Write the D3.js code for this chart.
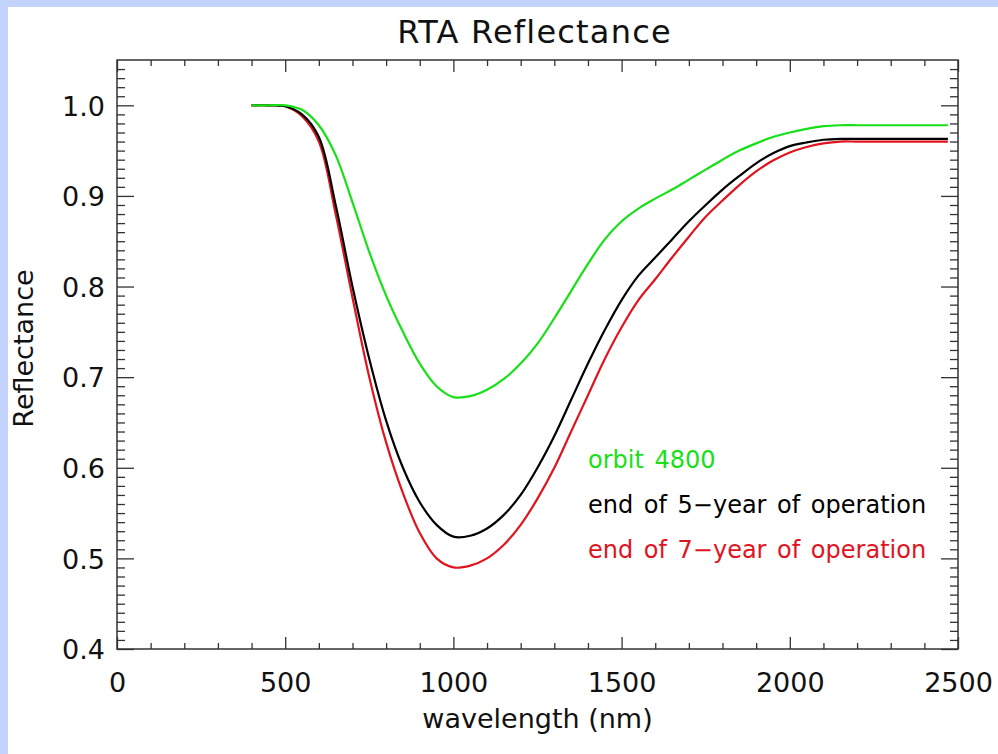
<!DOCTYPE html>
<html>
<head>
<meta charset="utf-8">
<script src="https://cdn.jsdelivr.net/npm/d3@7"></script>
<style>
    body { margin: 0; background: #c3d2fb; }
    svg { display: block; }
    text { font-family: 'DejaVu Sans', sans-serif; fill: #111; }
</style>
</head>
<body>
<div id="chart"></div>
<script>
// wavelength samples (nm)
const wavelength = [400, 450, 500, 550, 600, 650, 700, 750, 800, 850, 900, 950, 1000, 1050,
    1100, 1150, 1200, 1250, 1300, 1350, 1400, 1450, 1500, 1550, 1600, 1650, 1700, 1750,
    1800, 1850, 1900, 1950, 2000, 2050, 2100, 2150, 2200, 2300, 2400, 2470]

const orbit4800 = [1.0, 1.0, 1.0, 0.995, 0.978, 0.945, 0.893, 0.838, 0.790, 0.750, 0.715, 0.690, 0.678, 0.679,
    0.686, 0.698, 0.715, 0.737, 0.765, 0.795, 0.825, 0.852, 0.872, 0.886, 0.897, 0.907, 0.918, 0.929,
    0.940, 0.950, 0.958, 0.965, 0.970, 0.974, 0.977, 0.978, 0.978, 0.978, 0.978, 0.978]
const year5 = [1.0, 1.0, 0.999, 0.990, 0.965, 0.890, 0.800, 0.720, 0.652, 0.600, 0.562, 0.537, 0.524, 0.525,
    0.533, 0.548, 0.570, 0.600, 0.635, 0.675, 0.715, 0.752, 0.785, 0.812, 0.832, 0.852, 0.872, 0.890,
    0.907, 0.922, 0.936, 0.947, 0.955, 0.959, 0.962, 0.963, 0.963, 0.963, 0.963, 0.963]
const year7 = [1.0, 1.0, 0.999, 0.988, 0.960, 0.880, 0.788, 0.700, 0.628, 0.572, 0.528, 0.500, 0.490, 0.492,
    0.500, 0.515, 0.537, 0.566, 0.600, 0.640, 0.680, 0.720, 0.755, 0.785, 0.808, 0.832, 0.855, 0.877,
    0.895, 0.912, 0.927, 0.939, 0.948, 0.954, 0.958, 0.960, 0.960, 0.960, 0.960, 0.960]

const seriesNames = ['orbit 4800', 'end of 5\u2212year of operation', 'end of 7\u2212year of operation']
const seriesColors = ['#18e018', '#000000', '#e0141e']
const legendY = [0.6, 0.55, 0.5]

const xMajor = [0, 500, 1000, 1500, 2000, 2500]
const yMajor = [0.4, 0.5, 0.6, 0.7, 0.8, 0.9, 1.0]

drawChart()
function drawChart() {
    const W = 998, H = 754
    const dim = { left: 117, right: 958, top: 60, bottom: 649 }

    const svg = d3.select('#chart').append('svg')
        .attr('width', W).attr('height', H)

    // white slide panel on the blue frame
    svg.append('rect')
        .attr('x', 8).attr('y', 7)
        .attr('width', W - 8).attr('height', H - 7)
        .attr('fill', '#fff')

    const x = d3.scaleLinear().domain([0, 2500]).range([dim.left, dim.right])
    const y = d3.scaleLinear().domain([0.4, 1.05]).range([dim.bottom, dim.top])

    const xMinor = d3.range(100, 2500, 100).filter(d => d % 500 != 0)
    const yMinor = d3.range(41, 105).map(d => d / 100).filter(d => Math.round(d * 100) % 10 != 0)

    const axisColor = '#333'
    const addAxis = (axis, tx, ty) => {
        const g = svg.append('g')
            .attr('transform', `translate(${tx},${ty})`)
            .call(axis)
        g.select('.domain').remove()
        g.selectAll('.tick line').attr('stroke', axisColor).attr('stroke-width', 1.3)
        return g
    }

    // bottom & top
    addAxis(d3.axisBottom(x).tickValues(xMinor).tickSize(-6).tickFormat(''), 0, dim.bottom)
    addAxis(d3.axisTop(x).tickValues(xMinor).tickSize(-6).tickFormat(''), 0, dim.top)
    addAxis(d3.axisTop(x).tickValues(xMajor).tickSize(-12).tickFormat(''), 0, dim.top)
    const xAx = addAxis(d3.axisBottom(x).tickValues(xMajor).tickSize(-12).tickPadding(0).tickFormat(d3.format('d')), 0, dim.bottom)
    xAx.selectAll('text').attr('y', 43).attr('dy', 0)
        .style('font-size', '27px').style('font-family', 'DejaVu Sans').attr('fill', '#111')

    // left & right
    addAxis(d3.axisLeft(y).tickValues(yMinor).tickSize(-8).tickFormat(''), dim.left, 0)
    addAxis(d3.axisRight(y).tickValues(yMinor).tickSize(-8).tickFormat(''), dim.right, 0)
    addAxis(d3.axisRight(y).tickValues(yMajor).tickSize(-17).tickFormat(''), dim.right, 0)
    const yAx = addAxis(d3.axisLeft(y).tickValues(yMajor).tickSize(-17).tickFormat(d3.format('.1f')), dim.left, 0)
    yAx.selectAll('text').attr('x', -12).attr('dy', '0.36em')
        .style('font-size', '27px').style('font-family', 'DejaVu Sans').attr('fill', '#111')

    // frame
    svg.append('rect')
        .attr('x', dim.left).attr('y', dim.top)
        .attr('width', dim.right - dim.left).attr('height', dim.bottom - dim.top)
        .attr('fill', 'none').attr('stroke', axisColor).attr('stroke-width', 1.5)

    const line = d3.line()
        .x((d, i) => x(wavelength[i]))
        .y(d => y(d))
        .curve(d3.curveCatmullRom)

    const series = [orbit4800, year5, year7]
    // red first so black sits above it, green on top
    ;[2, 1, 0].forEach(i => {
        svg.append('path')
            .attr('d', line(series[i]))
            .attr('fill', 'none')
            .attr('stroke', seriesColors[i])
            .attr('stroke-width', 2.2)
    })

    // legend, placed in data coords
    seriesNames.forEach((name, i) => {
        svg.append('text')
            .attr('x', x(1400)).attr('y', y(legendY[i]))
            .style('font-size', '24px')
            .style('word-spacing', '3px')
            .style('fill', seriesColors[i])
            .text(name)
    })

    svg.append('text')
        .attr('x', (dim.left + dim.right) / 2 - 3).attr('y', 43)
        .attr('text-anchor', 'middle')
        .style('font-size', '32px')
        .style('letter-spacing', '1.2px')
        .text('RTA Reflectance')

    svg.append('text')
        .attr('x', (dim.left + dim.right) / 2).attr('y', 728)
        .attr('text-anchor', 'middle')
        .style('font-size', '27px')
        .text('wavelength (nm)')

    svg.append('text')
        .attr('transform', `translate(33, ${(dim.top + dim.bottom) / 2 - 6}) rotate(-90)`)
        .attr('text-anchor', 'middle')
        .style('font-size', '27px')
        .text('Reflectance')
}
</script>
</body>
</html>
